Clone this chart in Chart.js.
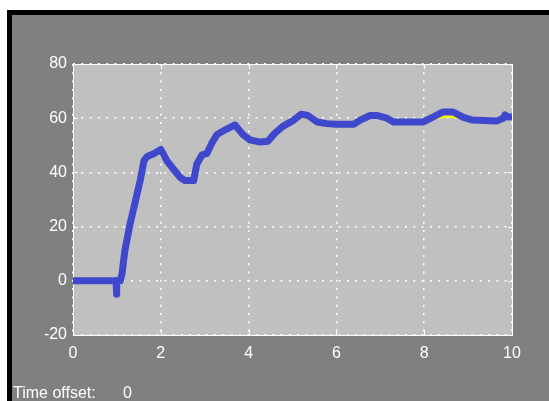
<!DOCTYPE html>
<html>
<head>
<meta charset="utf-8">
<script src="https://cdn.jsdelivr.net/npm/chart.js@4/dist/chart.umd.min.js"></script>
<style>
  html, body { margin: 0; padding: 0; background: #fff; overflow: hidden; }
  #frame {
    position: absolute; left: 7px; top: 10px; width: 542px; height: 391px;
    box-sizing: border-box; border-top: 5px solid #000; border-left: 5px solid #000;
    background: #808080;
  }
  #scope { position: absolute; left: 0; top: 0; }
  .offset {
    position: absolute; top: 370px; color: #fff;
    font: 16px "Liberation Sans", Arial, sans-serif; line-height: 16px; white-space: pre;
  }
</style>
</head>
<body>
<div id="frame">
  <canvas id="scope" width="537" height="386"></canvas>
  <div class="offset" style="left:1px">Time offset:</div>
  <div class="offset" style="left:111px">0</div>
</div>
<script>
// sample times (s) and the two scope traces
const timeSec = [0, 0.98, 0.99, 1.0, 1.08, 1.12, 1.18, 1.30, 1.43, 1.53, 1.62, 1.70, 1.85, 2.0, 2.05, 2.15, 2.3, 2.45,
  2.55, 2.75, 2.82, 2.94, 3.05, 3.17, 3.28, 3.5, 3.69, 3.87, 4.03, 4.26, 4.44, 4.6, 4.78, 5.0, 5.2, 5.35, 5.56,
  5.78, 6.0, 6.4, 6.54, 6.77, 6.92, 7.15, 7.3, 7.45, 7.97, 8.2, 8.43, 8.66, 8.88, 9.1, 9.66, 9.8, 9.84, 9.9, 10];
const outputBlue = [0, 0, -5, 0, 0, 3, 11, 21, 30, 37, 44.5, 46, 47, 48.5, 47, 44, 41, 38,
  37, 37, 43, 46.5, 47, 51, 54, 56, 57.5, 54, 52, 51.2, 51.5, 54.5, 57, 59, 61.5, 61, 58.6,
  58, 57.8, 57.8, 59.3, 61, 61, 60, 58.6, 58.6, 58.6, 60.4, 62.3, 62.3, 60.4, 59.3, 59, 60, 61.2, 60.4, 60.5];
const referenceYellow = [0, 0, -4, 0, 0, 2, 9, 19, 28, 35, 43, 45.5, 47, 48, 47, 44, 41, 38,
  37, 37, 41, 45.5, 47, 50, 53.5, 56, 57, 54, 52, 51.2, 51.5, 54, 56.5, 59, 60.5, 60.5, 58.6,
  57.5, 57.8, 57.8, 59, 60.5, 60.5, 60, 58.6, 58.6, 58.6, 59.8, 60.6, 60.6, 60, 59.3, 59, 59.5, 60.6, 60.4, 60.5];
const xTicks = [0, 2, 4, 6, 8, 10];
const yTicks = [-20, 0, 20, 40, 60, 80];

const toPoints = (ys) => timeSec.map((t, i) => ({ x: t, y: ys[i] }));

// gray plot box with a white frame and inward tick marks
const scopeFrame = {
  id: 'scopeFrame',
  beforeDraw(chart) {
    const { ctx, chartArea: a } = chart;
    ctx.save();
    ctx.fillStyle = '#c0c0c0';
    ctx.fillRect(a.left, a.top, a.right - a.left, a.bottom - a.top);
    ctx.restore();
  },
  beforeDatasetsDraw(chart) {
    const { ctx, chartArea: a, scales } = chart;
    ctx.save();
    ctx.strokeStyle = '#fff';
    ctx.lineWidth = 1;
    ctx.strokeRect(a.left + 0.5, a.top + 0.5, a.right - a.left, a.bottom - a.top);
    ctx.beginPath();
    yTicks.forEach((v) => {
      const y = Math.round(scales.y.getPixelForValue(v)) + 0.5;
      ctx.moveTo(a.left, y); ctx.lineTo(a.left + 5, y);
      ctx.moveTo(a.right - 4, y); ctx.lineTo(a.right + 1, y);
    });
    xTicks.forEach((v) => {
      const x = Math.round(scales.x.getPixelForValue(v)) + 0.5;
      ctx.moveTo(x, a.bottom); ctx.lineTo(x, a.bottom - 5);
      ctx.moveTo(x, a.top); ctx.lineTo(x, a.top + 5);
    });
    ctx.stroke();
    ctx.restore();
  }
};

const tickFont = { family: '"Liberation Sans", Arial, sans-serif', size: 16 };

new Chart(document.getElementById('scope'), {
  type: 'line',
  data: {
    datasets: [
      {
        label: 'Output',
        data: toPoints(outputBlue),
        borderColor: '#3f48cc',
        borderWidth: 7,
        borderCapStyle: 'butt',
        borderJoinStyle: 'round',
        pointRadius: 0,
        tension: 0,
        order: 1
      },
      {
        label: 'Reference',
        data: toPoints(referenceYellow),
        borderColor: '#ffff00',
        borderWidth: 3,
        pointRadius: 0,
        tension: 0,
        order: 2
      }
    ]
  },
  options: {
    responsive: false,
    animation: false,
    events: [],
    layout: { padding: { left: 0, top: 49, right: 37, bottom: 36 } },
    plugins: { legend: { display: false }, tooltip: { enabled: false } },
    scales: {
      x: {
        type: 'linear',
        min: 0,
        max: 10,
        afterBuildTicks: (s) => { s.ticks = xTicks.map((v) => ({ value: v })); },
        afterFit: (s) => { s.height = 30; },
        ticks: { color: '#fff', font: tickFont, padding: 9, maxRotation: 0 },
        grid: { color: '#fff', lineWidth: 1.5, drawTicks: false },
        border: { display: false, dash: [2, 6.3] }
      },
      y: {
        min: -20,
        max: 80,
        afterBuildTicks: (s) => { s.ticks = yTicks.map((v) => ({ value: v })); },
        afterFit: (s) => { s.width = 61; },
        ticks: { color: '#fff', font: tickFont, padding: 6 },
        grid: { color: '#fff', lineWidth: 1.5, drawTicks: false },
        border: { display: false, dash: [2, 6.3] }
      }
    }
  },
  plugins: [scopeFrame]
});
</script>
</body>
</html>
